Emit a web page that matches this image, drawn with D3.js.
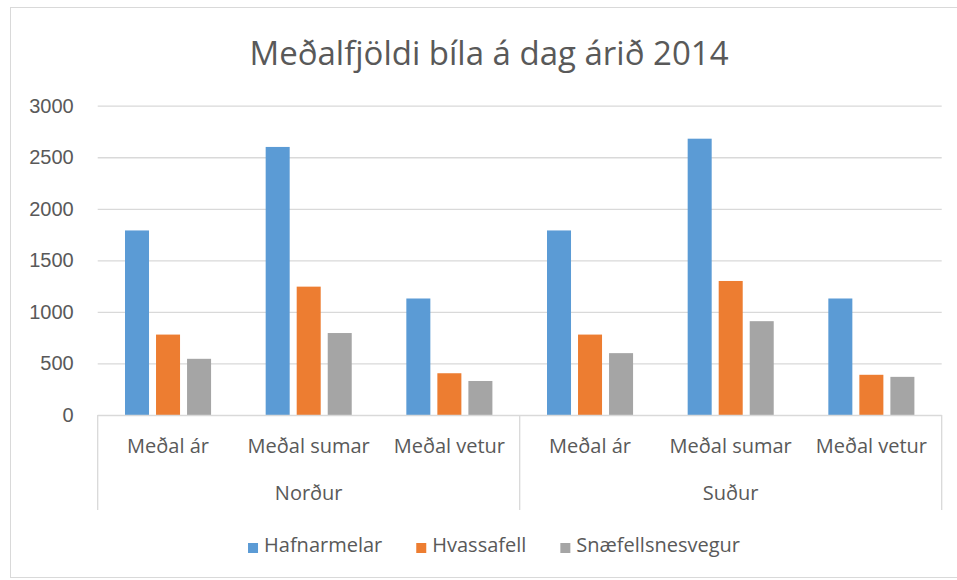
<!DOCTYPE html>
<html>
  <head>
    <meta charset="utf-8">
    <title>Meðalfjöldi bíla á dag árið 2014</title>
    <script src="https://cdn.jsdelivr.net/npm/d3@7"></script>
    <style>
      body { margin: 0; background: #fff; }
      svg { display: block; font-family: "Open Sans", "Noto Sans", sans-serif; }
      .tickText { fill: #595959; font-size: 20px; }
    </style>
  </head>
  <body>
    <svg id="chart" width="957" height="580"></svg>
    <script>
      // data
      const regions = ["Norður", "Suður"];
      const periods = ["Meðal ár", "Meðal sumar", "Meðal vetur"];
      const seriesNames = ["Hafnarmelar", "Hvassafell", "Snæfellsnesvegur"];
      const hafnarmelar = [1790, 2600, 1130, 1790, 2680, 1130];
      const hvassafell = [780, 1245, 405, 780, 1300, 390];
      const snaefellsnesvegur = [545, 795, 330, 600, 910, 370];
      const yTicks = [0, 500, 1000, 1500, 2000, 2500, 3000];
      const colours = ["#5B9BD5", "#ED7D31", "#A5A5A5"];

      // name page elements
      chart = d3.select("#chart");
      margin = { top: 105.7, right: 15.3, bottom: 165, left: 97.7 };
      width = 957;
      height = 580;

      // one row per category (region x period)
      categories = [];
      regions.forEach(function(r) {
        periods.forEach(function(p) { categories.push(r + "|" + p); });
      });
      const allSeries = [hafnarmelar, hvassafell, snaefellsnesvegur];
      chartData = categories.map(function(c, i) {
        return {
          key: c,
          values: seriesNames.map(function(s, j) { return { name: s, value: allSeries[j][i] }; })
        };
      });

      // chart frame
      chart.append("rect")
        .attr("x", 10.5)
        .attr("y", 7.5)
        .attr("width", 980)
        .attr("height", 570)
        .attr("fill", "none")
        .attr("stroke", "#d9d9d9");

      // title
      chart.append("text")
        .attr("x", 489)
        .attr("y", 65)
        .attr("text-anchor", "middle")
        .attr("fill", "#595959")
        .style("font-size", "33px")
        .text("Meðalfjöldi bíla á dag árið 2014");

      // scales
      x0 = d3.scaleBand()
        .domain(categories)
        .range([margin.left, width - margin.right]);
      x1 = d3.scaleBand()
        .domain(seriesNames)
        .range([0, x0.bandwidth()])
        .paddingInner(0.226)
        .paddingOuter(0.88);
      y = d3.scaleLinear()
        .domain([0, 3000])
        .range([415, margin.top]);
      colour = d3.scaleOrdinal()
        .domain(seriesNames)
        .range(colours);

      // gridlines
      gridAxis = d3.axisLeft(y)
        .tickValues(yTicks.slice(1))
        .tickSizeInner(-(width - margin.right - margin.left))
        .tickSizeOuter(0)
        .tickFormat("");
      chart.append("g")
        .attr("transform", "translate(" + margin.left + ",0)")
        .call(gridAxis)
        .call(function(g) {
          g.select(".domain").remove();
          g.selectAll("line").attr("stroke", "#d9d9d9").attr("stroke-width", 1.3);
        });

      // y labels
      yAxis = d3.axisLeft(y)
        .tickValues(yTicks)
        .tickSize(0)
        .tickPadding(24)
        .tickFormat(d3.format("d"));
      chart.append("g")
        .attr("transform", "translate(" + margin.left + ",0)")
        .call(yAxis)
        .call(function(g) {
          g.select(".domain").remove();
          g.selectAll("text")
            .attr("class", "tickText")
            .attr("font-family", null)
            .attr("font-size", null);
        });

      // bars
      groups = chart.append("g")
        .selectAll(".group")
          .data(chartData)
        .enter().append("g")
          .attr("class", "group")
          .attr("transform", function(d) { return "translate(" + x0(d.key) + ",0)"; });
      groups.selectAll("rect")
          .data(function(d) { return d.values; })
        .enter().append("rect")
          .attr("x", function(d) { return x1(d.name); })
          .attr("width", x1.bandwidth())
          .attr("y", function(d) { return y(d.value); })
          .attr("height", function(d) { return y(0) - y(d.value); })
          .attr("fill", function(d) { return colour(d.name); });

      // multi-level category axis
      axisG = chart.append("g");
      axisG.append("line")
        .attr("x1", margin.left).attr("x2", width - margin.right)
        .attr("y1", y(0) + 0.5).attr("y2", y(0) + 0.5)
        .attr("stroke", "#d9d9d9").attr("stroke-width", 1.3);
      dividers = [categories[0], categories[3]].map(function(c) { return x0(c); });
      dividers.push(width - margin.right);
      axisG.selectAll(".divider")
          .data(dividers)
        .enter().append("line")
          .attr("class", "divider")
          .attr("x1", function(d) { return d; }).attr("x2", function(d) { return d; })
          .attr("y1", y(0)).attr("y2", 510)
          .attr("stroke", "#d9d9d9").attr("stroke-width", 1.3);
      axisG.selectAll(".periodLabel")
          .data(categories)
        .enter().append("text")
          .attr("class", "tickText")
          .attr("x", function(d) { return x0(d) + x0.bandwidth() / 2; })
          .attr("y", 453)
          .attr("text-anchor", "middle")
          .text(function(d) { return d.split("|")[1]; });
      axisG.selectAll(".regionLabel")
          .data(regions)
        .enter().append("text")
          .attr("class", "tickText")
          .attr("x", function(d, i) { return x0(categories[i * 3]) + x0.bandwidth() * 1.5; })
          .attr("y", 500)
          .attr("text-anchor", "middle")
          .text(function(d) { return d; });

      // legend
      legend = chart.append("g");
      items = legend.selectAll(".item")
          .data(seriesNames)
        .enter().append("g")
          .attr("class", "item");
      items.append("rect")
        .attr("width", 10)
        .attr("height", 10)
        .attr("y", -9)
        .attr("fill", function(d) { return colour(d); });
      items.append("text")
        .attr("class", "tickText")
        .attr("x", 16)
        .attr("y", 0)
        .text(function(d) { return d; });
      let offset = 0;
      let positions = [];
      items.each(function() {
        positions.push(offset);
        offset += 16 + this.querySelector("text").getComputedTextLength() + 34;
      });
      const legendWidth = offset - 34;
      items.attr("transform", function(d, i) {
        return "translate(" + (494 - legendWidth / 2 + positions[i]) + ",552)";
      });
    </script>
  </body>
</html>
